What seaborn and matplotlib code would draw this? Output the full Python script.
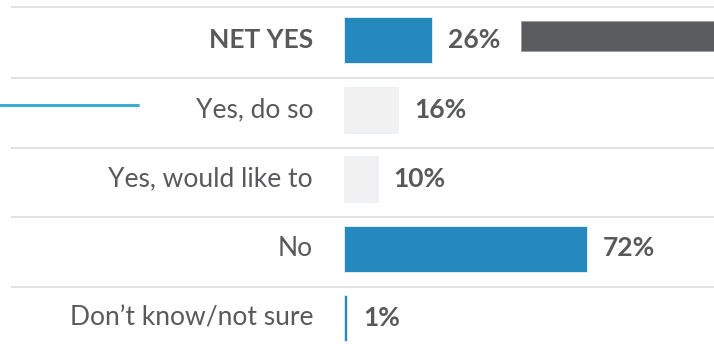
import matplotlib
matplotlib.use("Agg")
import matplotlib.pyplot as plt
import seaborn as sns
import pandas as pd

categories = ["NET YES", "Yes, do so", "Yes, would like to", "No", "Don\u2019t know/not sure"]
values = [26, 16, 10, 72, 1]
bar_colors = ["#2589bd", "#f1f1f1", "#f1f1f1", "#2589bd", "#2589bd"]
value_labels = ["26%", "16%", "10%", "72%", "1%"]

sns.set_theme(style="white")
plt.rcParams["font.family"] = ["Lato", "DejaVu Sans"]

TEXT = "#58595b"
W, H, DPI = 714, 357, 100
PX_PER_PCT = 3.37
X0 = 344          # pixel where the value axis starts
ROW = 69.5        # pixel spacing of rows
TOP = 40          # pixel centre of first row

fig = plt.figure(figsize=(W / DPI, H / DPI), dpi=DPI)
ax = fig.add_axes([0, 0, 1, 1])

df = pd.DataFrame({"cat": categories, "val": values})
sns.barplot(data=df, x="val", y="cat", hue="cat", palette=bar_colors,
            orient="h", width=46 / ROW, legend=False, ax=ax, saturation=1,
            edgecolor="#e8f2f8", linewidth=0.6)

ax.set_xlim(-X0 / PX_PER_PCT, (W - X0) / PX_PER_PCT)
ax.set_ylim((H - TOP) / ROW, -TOP / ROW)
ax.axis("off")

# row separators
x_left = (11 - X0) / PX_PER_PCT
for ysep in [-0.475, 0.55, 1.55, 2.55, 3.55]:
    ax.plot([x_left, ax.get_xlim()[1]], [ysep, ysep], color="#e2e2e2",
            lw=1.4, zorder=0, solid_capstyle="butt")

# category labels
lab_x = (313 - X0) / PX_PER_PCT
for i, c in enumerate(categories):
    ax.text(lab_x, i, c, ha="right", va="center", fontsize=19, color=TEXT,
            fontweight="bold" if i == 0 else "normal")

# value labels
for i, (v, t) in enumerate(zip(values, value_labels)):
    ax.text(v + 16 / PX_PER_PCT, i, t, ha="left", va="center", fontsize=19,
            color=TEXT, fontweight="bold")

# decorative accents
fig.patches.append(plt.Rectangle((521 / W, 1 - 51 / H), (W - 521) / W, 30 / H,
                                 transform=fig.transFigure, facecolor="#5b5c60",
                                 edgecolor="#9a9a9c", lw=0.6))
fig.lines.append(plt.Line2D([0, 138 / W], [1 - 105 / H, 1 - 105 / H],
                            transform=fig.transFigure, color="#3aafd4", lw=2.2))

fig.savefig("out.png", dpi=DPI)
